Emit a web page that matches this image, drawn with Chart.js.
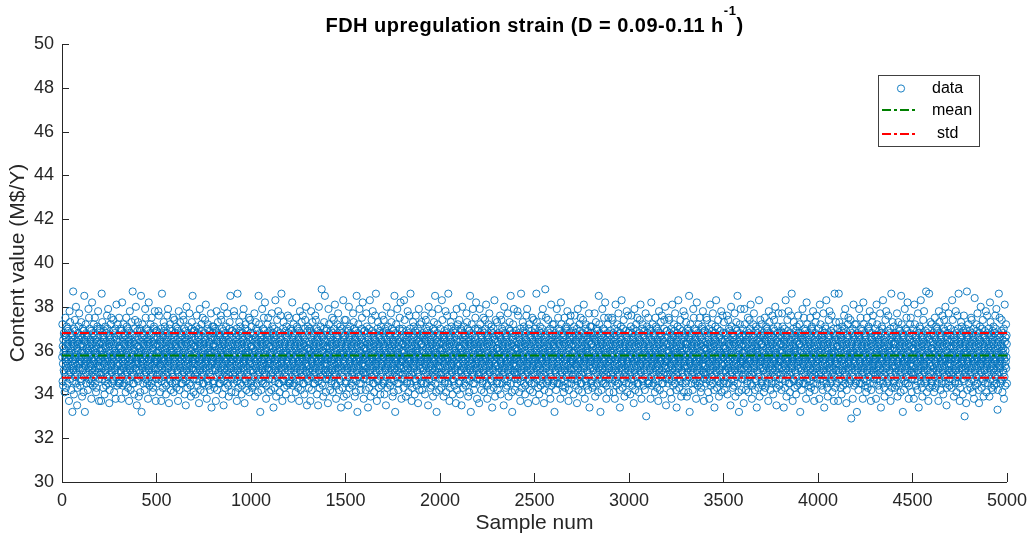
<!DOCTYPE html>
<html>
<head>
<meta charset="utf-8">
<title>FDH upregulation strain</title>
<script src="https://cdn.jsdelivr.net/npm/chart.js@4.4.0/dist/chart.umd.min.js"></script>
<style>
  html, body { margin: 0; padding: 0; background: #fff; }
  #wrap { width: 1035px; height: 538px; }
</style>
</head>
<body>
<div id="wrap"><canvas id="contentChart" width="1035" height="538"></canvas></div>
<script>
const xTicks = [0, 500, 1000, 1500, 2000, 2500, 3000, 3500, 4000, 4500, 5000];
const yTicks = [30, 32, 34, 36, 38, 40, 42, 44, 46, 48, 50];
const meanValue = 35.78;
const stdValue = 1.02;

// Content value per sample, 2 digits each = tenths above 30 M$/Y ("58" -> 35.8).
// One row = 100 samples, groups of 10.
const sampleCodes = [
  "57724662544465595168 61506741585648756453 43606655715257706345 54695649626537515978 58477357506168534264 66556067324663568752 51624065705954744857 69565080455358646135 49436360666871525755 77655451564447626759",
  "57734663553966605270 62516941595648856554 32586453725057686145 55675649636642526079 59477557516270544565 64535869384661568250 52634466686055724857 67565175455459656241 49436158647071505753 78665552563747636960",
  "53705649616437505886 60477357526367554366 65545969404662567151 50614464685853764857 70565279455560666336 49426259656772515754 75645350564547616958 57744663554166605268 62517038595648816554 44586453725057676145",
  "57754662544565595170 61506938585648826453 44606655725257686345 54675649626541515975 58477157506170534364 66556069374663567852 51624265685954734857 67565087455358646145 49406360667074525755 80655451563547626959",
  "57734662543965595170 61506941585648856453 32606655725257686345 54675649626542515979 58477557506170534564 66556069384663568252 51624465685954724857 67565075455358646141 49436360667071525755 78655451563747626959",
  "55695649636645526078 59477657516268544165 64535870374661568650 52634366676055734857 69565171455459656240 49446158646876505753 79665552563647637060 57724662544265595167 61506945585648756453 41606655745257686345",
  "57714662544365595170 61506937585648786453 42606655735257686345 54675649626545515976 58477457506170534064 66556069354663568052 51624365685954714857 67565077455358646144 49396360667073525755 85655451564147626959",
  "54695649626540515971 58477657506168534464 66556070364663567952 51624265675954724857 69565075455358646145 49416360666874525755 81655451563847627059 57724661534464585067 63526942605648776655 34596554715157686245",
  "57714663554366605270 62516937595648786554 42586453735057686145 55675649636645526076 59477457516270544065 64535869354661568050 52634366686055714857 67565177455459656244 49396158647073505753 85665552564147636960",
  "54695649626545515978 58477657506168534164 66556070374663568652 51624365675954734857 69565071455358646140 49446360666876525755 79655451563647627059 57724661534264585067 63526945605648756655 41596554745157686245",
  "57714662544365595168 61506744585648776453 39606655735257706345 54695649626541515985 58477257506168533264 66556067424663567952 51624565705954754857 69565082455358646138 49446360666872525755 75655451564147626759",
  "54695649626542515977 58477157506168533464 66556070434663568352 51623965675954744857 69565078455358646145 49416360666876525755 86655451563747627059 57734661534364585067 63526940605648716655 44596554765157686245",
  "57754661534564585070 63526938605648826655 44596554725157686245 53675649616441505875 60477157526370554366 65545969374662567851 50614264685853734857 67565276455560666345 49406259657074515754 80645350563547616958",
  "57714661534364585070 63526937605648786655 42596554735157686245 53675649616445505876 60477457526370554066 65545969354662568051 50614364685853714857 67565288455560666344 49396259657073515754 85645350564147616958",
  "54705649626536515979 58477257506167534264 66556069454663567552 51624165685954744857 70565081455358646138 49446360666772525755 77655451564247626959 57714661533464585068 63527043605648836655 39596554745157676245",
  "57744661534064585070 63526935605648806655 43596554715157686245 53675649616444505877 60477357526370553966 65545969414662568551 50613264685853724857 67565279455560666342 49456259657075515754 82645350563847616958",
  "53695649616442505877 60477157526368553466 65545970434662568351 50613964675853744857 69565278455560666345 49416259656876515754 86645350563747617058 57734663554366605267 62516940595648716554 44586453765057686145",
  "57744663554066605270 62516935595648806554 43586453715057686145 55675649636644526077 59477357516270543965 64535869414661568550 52633266686055724857 67565179455459656242 49456158647075505753 82665552563847636960",
  "55705649636643526083 59477457516267543965 64535869454661567850 52634166686055764857 70565186455459656237 49436158646773505753 71665552564047636960 57764662544465595168 61507036585648796453 42606655725257676345",
  "57734663554266605268 62516745595648766554 40586453745057706145 55695649636635526080 59477157516268544365 64535867444661567750 52633966706055734857 69565185455459656241 49326158646872505753 79665552564247636760",
  "53705649616443505883 60477457526367553966 65545969454662567851 50614164685853764857 70565286455560666337 49436259656773515754 71645350564047616958 57764663554466605268 62517036595648796554 42586453725057676145",
  "57744662544065595170 61506935585648806453 43606655715257686345 54675649626544515977 58477357506170533964 66556069414663568552 51623265685954724857 67565079455358646142 49456360667075525755 82655451563847626959",
  "53705649616436505879 60477257526367554266 65545969454662567551 50614164685853744857 70565281455560666338 49446259656772515754 77645350564247616958 57714663553466605268 62517043595648836554 39586453745057676145",
  "57734661534264585068 63526745605648766655 40596554745157706245 53695649616435505880 60477157526368554366 65545967444662567751 50613964705853734857 69565285455560666341 49326259656872515754 79645350564247616758",
  "53695649616445505878 60477657526368554166 65545970374662568651 50614364675853734857 69565271455560666340 49446259656876515754 79645350563647617058 57724663554266605267 62516945595648756554 41586453745057686145",
  "55705649636637526086 59477357516267544365 64535869404661567150 52634466686055764857 70565179455459656236 49426158646788505753 75665552564547636960 57744662544165595168 61507038585648816453 44606655725257676345",
  "57724662543265595168 61506742585648796453 45606655755257706345 54695649626538515982 58477257506168534464 66556067414663567552 51624365705954714857 69565078455358646137 49426360666873525755 76655451564547626759",
  "55695649636640526071 59477657516268544465 64535870364661567950 52634266676055724857 69565175455459656245 49416158646874505753 81665552563847637060 57724662544465595167 61506942585648776453 34606655715257686345",
  "57714663554366605268 62516744595648776554 39586453735057706145 55695649636641526085 59477257516268543265 64535867424661567950 52634566706055754857 69565182455459656238 49446158646872505753 75665552564147636760",
  "54695649626545515975 58477457506168534164 66556070384663568152 51624465675954724857 69565077455358646142 49346360666871525755 83655451564347627059 57744661533964585067 63526945605648786655 41596554765157686245",
  "53695649616440505871 60477657526368554466 65545970364662567951 50614264675853724857 69565275455560666345 49416259656874515754 81645350563847617058 57724663554466605267 62516942595648776554 30586453715057686145",
  "57754663554566605270 62516938595648826554 44586453725057686145 55675649636641526075 59477157516270544365 64535869374661567850 52634266686055734857 67565176455459656245 49406158647074505753 80665552563547636960",
  "55695649636645526075 59477457516268544165 64535870384661568150 52634466676055724857 69565177455459656242 49346158646871505753 83665552564347637060 57744662543965595167 61506945585648786453 41606655765257686345",
  "57734661533964585070 63526941605648856655 32596554725157686245 53675649616442505879 60477557526370554566 65545969384662568251 50614464685853724857 67565275455560666341 49436259657071515754 78645350563747616958",
  "53695649616445505875 60477457526368554166 65545970384662568151 50614464675853724857 69565277455560666342 49346259656871515754 83645350564347617058 57744663553966605267 62516945595648786554 41586453765057686145",
  "57734662544265595168 61506745585648766453 40606655745257706345 54695649626535515980 58477157506168534364 66556067444663567752 51623965705954734857 69565085455358646141 49326360666872525755 79655451564247626759",
  "55705649636636526079 59477257516267544265 64535869454661567550 52634166686055744857 70565181455459656238 49446158646772505753 77665552564247636960 57714662543465595168 61507043585648836453 39606655745257676345",
  "57724663554466605268 62516741595648756554 43586453715057706145 55695649636637526078 59477357516268544265 64535867454661567650 52634066706055744857 69565180455459656235 49436158646871505753 77665552564447636760",
  "55695649636642526077 59477157516268543465 64535870434661568350 52633966676055744857 69565178455459656245 49416158646876505753 86665552563747637060 57734662544365595167 61506940585648716453 44606655765257686345",
  "57724663553266605268 62516742595648796554 45586453755057706145 55695649636638526082 59477257516268544465 64535867414661567550 52634366706055714857 69565178455459656237 49426158646873505753 76665552564547636760",
  "54705649626538515981 58477257506167534464 66556069424663567752 51623465685954714857 70565083455358646143 49396360666774525755 78655451564547626959 57764661534164585068 63527037605648866655 43596554735157676245",
  "54705649626537515986 58477357506167534364 66556069404663567152 51624465685954764857 70565079455358646136 49426360666772525755 75655451564547626959 57744661532964585068 63527038605648816655 44596554725157676245",
  "57724661533264585068 63526742605648796655 45596554755157706245 53695649616438505882 60477257526368554466 65545967414662567551 50614364705853714857 69565278455560666337 49426259656873515754 76645350564547616758",
  "55705649636638526081 59477257516267544465 64535869424661567750 52633466686055714857 70565183455459656243 49396158646774505753 78665552564547636960 57764662544165595168 61507037585648866453 43606655735257676345",
  "57714661534364585068 63526744605648776655 39596554735157706245 53695649616441505885 60477257526368553266 65545967424662567951 50614564705853754857 69565282455560666338 49446259656872515754 75645350564147616758",
  "53705649616438505881 60477257526367554466 65545969424662567751 50613464685853714857 70565283455560666343 49396259656774515754 78645350564547616958 57874663554166605268 62517037595648866554 43586453735057676145",
  "57724661534464585068 63526741605648756655 43596554715157706245 53695649616437505878 60477357526368554266 65545967454662567651 50614064705853744857 69565280455560666335 49436259656871515754 77645350564447616758",
  "54705649626543515983 58477457506167533964 66556069454663567852 51624165685954764857 70565086455358646137 49436360666773525755 71655451564047626959 57764661533064585068 63527036605648876655 42596554725157676245",
  "53695649616443505875 60477457526368554166 65545970384662568451 50614464675853724857 69565277455560666342 49366259656871515754 80645350564347617058 57744663553966605267 62516945595648786554 41586453765057686145",
  "55705649636639526082 59477357516267544365 64535869424661567150 52634466686055764857 70565179455459656233 49426158646786505753 75665552564547636960 57744662544165595168 61507038585648816453 44606655725257676345"
];

const contentValues = [];
sampleCodes.forEach(row => {
  row.split(' ').forEach(group => {
    for (let k = 0; k + 1 < group.length; k += 2) {
      contentValues.push(30 + Number(group.slice(k, k + 2)) / 10);
    }
  });
});
const samplePoints = contentValues.map((v, i) => ({ x: i + 1, y: v }));

const ink = '#262626';
const sans = 'Arial, "Liberation Sans", Helvetica, sans-serif';
const dashDot = [9, 3, 3, 3];
const meanColor = '#008000';
const stdColor = '#ff0000';
const dataColor = 'rgba(0, 114, 189, 0.9)';

const hLine = (label, y, color) => ({
  type: 'line',
  label: label,
  data: [{ x: 0, y: y }, { x: 5000, y: y }],
  showLine: true,
  borderColor: color,
  borderWidth: 2,
  borderDash: dashDot,
  pointRadius: 0,
  fill: false,
  order: 0
});

// inward tick marks, title with superscript, boxed legend
const decor = {
  id: 'decor',
  beforeDatasetsDraw(chart) {
    const { ctx, chartArea: a, scales: { x, y } } = chart;
    ctx.save();
    ctx.strokeStyle = ink;
    ctx.lineWidth = 1;
    ctx.beginPath();
    xTicks.forEach(v => {
      const px = Math.round(x.getPixelForValue(v)) + 0.5;
      ctx.moveTo(px, a.bottom);
      ctx.lineTo(px, a.bottom - 9);
    });
    yTicks.forEach(v => {
      const py = Math.round(y.getPixelForValue(v)) + 0.5;
      ctx.moveTo(a.left, py);
      ctx.lineTo(a.left + 7, py);
    });
    ctx.stroke();
    ctx.restore();
  },
  afterDraw(chart) {
    const { ctx, chartArea: a } = chart;
    ctx.save();

    // title
    const main = 'FDH upregulation strain (D = 0.09-0.11 h';
    const sup = '-1';
    const tail = ')';
    ctx.fillStyle = '#000';
    ctx.textBaseline = 'alphabetic';
    ctx.textAlign = 'left';
    ctx.letterSpacing = '0.5px';
    ctx.font = 'bold 20px ' + sans;
    const wMain = ctx.measureText(main).width;
    const wTail = ctx.measureText(tail).width;
    ctx.font = 'bold 13px ' + sans;
    const wSup = ctx.measureText(sup).width;
    let tx = (a.left + a.right) / 2 - (wMain + wSup + wTail) / 2;
    ctx.font = 'bold 20px ' + sans;
    ctx.fillText(main, tx, 32);
    ctx.font = 'bold 13px ' + sans;
    ctx.fillText(sup, tx + wMain, 15);
    ctx.font = 'bold 20px ' + sans;
    ctx.fillText(tail, tx + wMain + wSup, 32);
    ctx.letterSpacing = '0px';

    // legend
    ctx.fillStyle = '#fff';
    ctx.fillRect(878, 75, 101, 71);
    ctx.strokeStyle = '#404040';
    ctx.lineWidth = 1;
    ctx.strokeRect(878.5, 75.5, 101, 71);

    ctx.strokeStyle = dataColor;
    ctx.beginPath();
    ctx.arc(901, 88.5, 3.6, 0, Math.PI * 2);
    ctx.stroke();

    ctx.lineWidth = 2;
    ctx.setLineDash(dashDot);
    ctx.strokeStyle = meanColor;
    ctx.beginPath();
    ctx.moveTo(882, 110);
    ctx.lineTo(918, 110);
    ctx.stroke();
    ctx.strokeStyle = stdColor;
    ctx.beginPath();
    ctx.moveTo(882, 134);
    ctx.lineTo(918, 134);
    ctx.stroke();
    ctx.setLineDash([]);

    ctx.fillStyle = '#000';
    ctx.font = '16px ' + sans;
    ctx.textBaseline = 'middle';
    ctx.fillText('data', 932, 89);
    ctx.fillText('mean', 932, 111);
    ctx.fillText('std', 937, 134);
    ctx.restore();
  }
};

const tickFont = { family: sans, size: 18 };
const labelFont = { family: sans, size: 21 };

new Chart(document.getElementById('contentChart'), {
  type: 'scatter',
  data: {
    datasets: [
      hLine('mean', meanValue, meanColor),
      hLine('std', meanValue + stdValue, stdColor),
      hLine('std', meanValue - stdValue, stdColor),
      {
        label: 'data',
        data: samplePoints,
        pointStyle: 'circle',
        pointRadius: 3.6,
        pointBorderWidth: 1,
        borderColor: dataColor,
        backgroundColor: 'rgba(0, 0, 0, 0)',
        showLine: false,
        clip: false,
        order: 5
      }
    ]
  },
  options: {
    responsive: false,
    animation: false,
    events: [],
    layout: { padding: { left: 0, right: 23, top: 44, bottom: 0 } },
    plugins: {
      legend: { display: false },
      tooltip: { enabled: false },
      title: { display: false }
    },
    scales: {
      x: {
        type: 'linear',
        min: 0,
        max: 5000,
        afterBuildTicks: s => { s.ticks = xTicks.map(v => ({ value: v })); },
        afterFit: s => { s.height = 56; },
        grid: { display: false, drawTicks: false },
        border: { display: true, color: ink, width: 1 },
        ticks: { font: tickFont, color: ink, padding: 8, maxRotation: 0, autoSkip: false, callback: v => String(v) },
        title: { display: true, text: 'Sample num', font: labelFont, color: ink, padding: { top: 0, bottom: 2 } }
      },
      y: {
        type: 'linear',
        min: 30,
        max: 50,
        afterBuildTicks: s => { s.ticks = yTicks.map(v => ({ value: v })); },
        afterFit: s => { s.width = 62; },
        grid: { display: false, drawTicks: false },
        border: { display: true, color: ink, width: 1 },
        ticks: { font: tickFont, color: ink, padding: 8, autoSkip: false, callback: v => String(v) },
        title: { display: true, text: 'Content value (M$/Y)', font: labelFont, color: ink, padding: { top: 6, bottom: 0 } }
      }
    }
  },
  plugins: [decor]
});
</script>
</body>
</html>
